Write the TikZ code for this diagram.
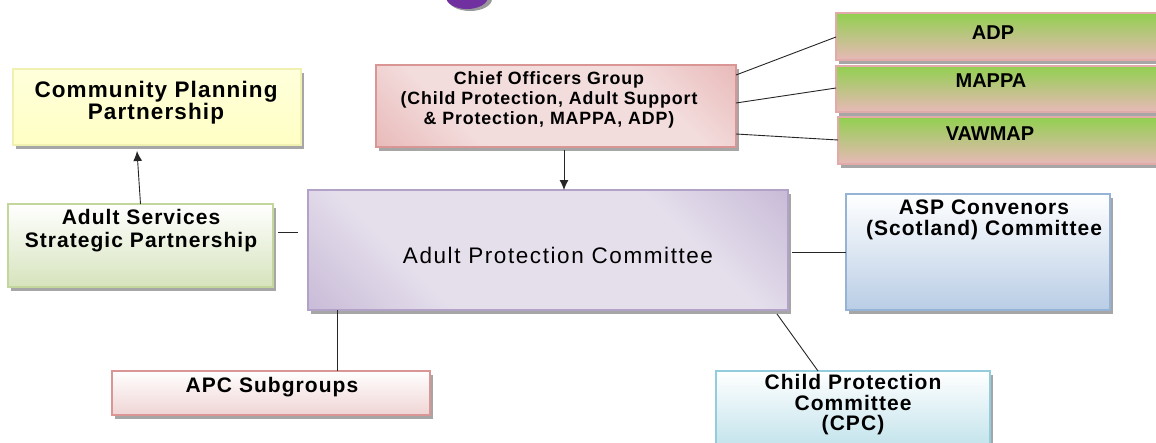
\documentclass[tikz,border=0pt]{standalone}
\usepackage{fontspec}
\setmainfont{Liberation Sans}
\newfontfamily\lsf[LetterSpace=5]{Liberation Sans}
\newfontfamily\lsr[LetterSpace=7]{Liberation Sans}
\usetikzlibrary{arrows.meta,shadows,calc}
\definecolor{cppfill}{HTML}{FFFFC4}
\definecolor{cppdraw}{HTML}{F0F0B0}
\definecolor{chiefdark}{HTML}{E09E9D}
\definecolor{chieflight}{HTML}{F3DCDC}
\definecolor{chiefdraw}{HTML}{D99694}
\definecolor{grn}{HTML}{92D050}
\definecolor{pnk}{HTML}{E8B8B8}
\definecolor{apcdark}{HTML}{B09DC6}
\definecolor{apclight}{HTML}{E5DFEC}
\definecolor{apcdraw}{HTML}{B3A2C7}
\definecolor{asspbot}{HTML}{D6E3BC}
\definecolor{asspdraw}{HTML}{C3D69B}
\definecolor{aspbot}{HTML}{B9CDE5}
\definecolor{aspdraw}{HTML}{95B3D7}
\definecolor{cpcbot}{HTML}{B7DEE8}
\definecolor{cpcdraw}{HTML}{93CDDD}
\definecolor{subbot}{HTML}{F0D4D4}
\definecolor{blob}{HTML}{7030A0}
\pgfdeclareverticalshading{apcshade}{100bp}{color(0bp)=(apcdark); color(32bp)=(apclight); color(68bp)=(apclight); color(100bp)=(apcdark)}
\pgfdeclareverticalshading{chiefshade}{100bp}{color(0bp)=(chiefdark); color(32bp)=(chieflight); color(68bp)=(chieflight); color(100bp)=(chiefdark)}
\tikzset{
  box/.style={rectangle, inner sep=0pt, outer sep=0pt, anchor=north west, line width=1.2pt,
    drop shadow={shadow xshift=3pt, shadow yshift=-4pt, fill=black, opacity=0.35}},
  txt/.style={align=center, inner sep=0pt, text=black},
  conn/.style={line width=0.9pt, draw=black!85},
  arr/.style={conn, -{Latex[length=10pt,width=9pt]}},
}
\begin{document}
\begin{tikzpicture}[x=1pt,y=-1pt]
\clip (0,0) rectangle (1156,442);
\useasboundingbox (0,0) rectangle (1156,442);
\fill[white] (0,0) rectangle (1156,442);

% purple shape at top edge
\fill[black!40] (470,-1) ellipse (22 and 12);
\fill[blob] (467,-3) ellipse (21 and 12);

% boxes
\node[box, draw=cppdraw, top color=cppfill!60!white, bottom color=cppfill, minimum width=288pt, minimum height=76pt] (cpp) at (13,69) {};
\node[box, draw=chiefdraw, shading=chiefshade, shading angle=-45, minimum width=360pt, minimum height=82pt] (chief) at (376,65) {};
\node[box, draw=chiefdraw!80, top color=grn, bottom color=pnk, minimum width=330pt, minimum height=47pt] (adp) at (836,13) {};
\node[box, draw=chiefdraw!80, top color=grn, bottom color=pnk, minimum width=330pt, minimum height=46pt] (mappa) at (836,66) {};
\node[box, draw=chiefdraw!80, top color=grn, bottom color=pnk, minimum width=330pt, minimum height=47pt] (vawmap) at (838,117) {};
\node[box, draw=apcdraw, shading=apcshade, shading angle=-45, minimum width=480pt, minimum height=120pt] (apc) at (308,190) {};
\node[box, draw=asspdraw, top color=white, bottom color=asspbot, minimum width=265pt, minimum height=83pt] (assp) at (8,204) {};
\node[box, draw=aspdraw, top color=white, bottom color=aspbot, minimum width=264pt, minimum height=116pt] (asp) at (846,194) {};
\node[box, draw=chiefdraw, top color=white, bottom color=subbot, minimum width=318pt, minimum height=44pt] (sub) at (112,371) {};
\node[box, draw=cpcdraw, top color=white, bottom color=cpcbot, minimum width=274pt, minimum height=90pt] (cpc) at (716,371) {};

% texts
\node[txt, font=\lsf\bfseries\fontsize{22.5}{21}\selectfont] (cppt) at (156,103) {Community Planning\\Partnership};
\node[txt, font=\lsf\bfseries\fontsize{17.8}{20}\selectfont] (chieft) at (549,100) {Chief Officers Group\\(Child Protection, Adult Support\\\& Protection, MAPPA, ADP)};
\node[txt, font=\bfseries\fontsize{20}{20}\selectfont] (adpt) at (993,33) {ADP};
\node[txt, font=\bfseries\fontsize{20}{20}\selectfont] (mappat) at (991,81) {MAPPA};
\node[txt, font=\bfseries\fontsize{20}{20}\selectfont] (vawmapt) at (990,134) {VAWMAP};
\node[txt, font=\lsr\fontsize{22.5}{22}\selectfont] (apct) at (558,255) {Adult Protection Committee};
\node[txt, font=\lsf\bfseries\fontsize{21}{23}\selectfont] (asspt) at (141,231) {Adult Services\\Strategic Partnership};
\node[txt, font=\lsf\bfseries\fontsize{21}{21}\selectfont] (aspt) at (984,220) {ASP Convenors\\(Scotland) Committee};
\node[txt, font=\lsf\bfseries\fontsize{21}{20}\selectfont] (subt) at (272,387) {APC Subgroups};
\node[txt, font=\lsf\bfseries\fontsize{21}{20.5}\selectfont] (cpct) at (853,405) {Child Protection\\Committee\\(CPC)};

% connectors
\draw[arr] (assp.north) -- ($(cpp.south -| 137,0)+(0,6)$) coordinate (a2);
\draw[arr] (chief.south -| 564,0) ++(0,3) coordinate (b1) (b1) -- (apc.north -| b1);
\draw[conn] (chief.east |- 0,75) -- (adp.west |- 0,37);
\draw[conn] (chief.east |- 0,103) -- (mappa.west |- 0,88);
\draw[conn] (chief.east |- 0,134) -- (vawmap.west |- 0,140);
\draw[conn, shorten <=5pt, shorten >=10pt] (assp.east |- 0,232) -- (apc.west |- 0,232);
\draw[conn] (apc.east |- 0,252) ++(4,0) coordinate (d1) (d1) -- (asp.west |- 0,252);
\draw[conn] (apc.south -| 337,0) -- (sub.north -| 337,0);
\draw[conn] (apc.south -| 777,0) ++(0,4) coordinate (e1) (e1) -- (cpc.north -| 818,0);
\end{tikzpicture}
\end{document}
